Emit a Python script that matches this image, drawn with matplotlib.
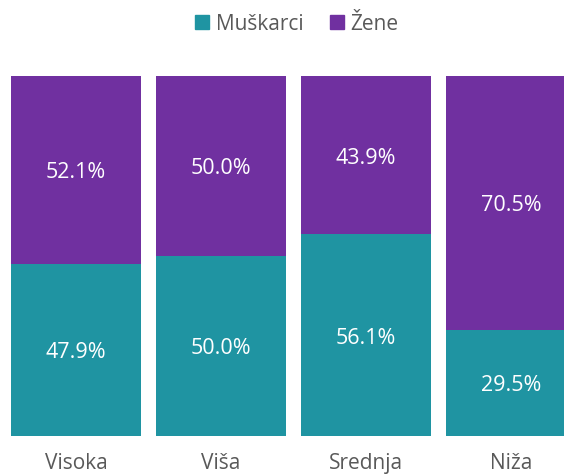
import numpy as np
import matplotlib
matplotlib.use("Agg")
import matplotlib.pyplot as plt
from matplotlib.patches import Patch

## data
categories = ["Visoka", "Viša", "Srednja", "Niža"]
muskarci = [47.9, 50.0, 56.1, 29.5]
zene = [52.1, 50.0, 43.9, 70.5]
series_names = ["Muškarci", "Žene"]

teal = "#1f94a2"
purple = "#7030a0"
grey = "#595959"

plt.rcParams['font.family'] = ['Open Sans', 'DejaVu Sans']

fig = plt.figure(figsize=(5.64, 4.74), dpi=100)
## axes span the full width so the last bar gets clipped like in the original
ax = fig.add_axes([0, 1 - 436 / 474, 1, 360 / 474])

x = np.arange(len(categories))
m = np.array(muskarci) / 100
z = np.array(zene) / 100
w = 0.897
nudge = 3 / 360  # labels sit a few px below the exact middle

ax.bar(x, m, width=w, color=teal, edgecolor="none")
ax.bar(x, z, width=w, bottom=m, color=purple, edgecolor="none")

for i in range(len(categories)):
    ax.text(x[i], m[i] / 2 - nudge, f"{muskarci[i]:.1f}%", ha="center", va="center",
            color="white", fontsize=15.5)
    ax.text(x[i], m[i] + z[i] / 2 - nudge, f"{zene[i]:.1f}%", ha="center", va="center",
            color="white", fontsize=15.5)
    ax.text(x[i], -0.076, categories[i], ha="center", va="center",
            color=grey, fontsize=15, clip_on=False)

ax.set_xlim(-76 / 145, -76 / 145 + 564 / 145)
ax.set_ylim(0, 1)
ax.axis("off")

handles = [Patch(color=teal), Patch(color=purple)]
fig.legend(handles, series_names, loc="center", bbox_to_anchor=(297 / 564, 1 - 24 / 474),
           ncol=2, frameon=False, fontsize=15, labelcolor=grey,
           handlelength=0.67, handleheight=0.67, handletextpad=0.3, columnspacing=1.3)

fig.savefig("out.png", dpi=100)
